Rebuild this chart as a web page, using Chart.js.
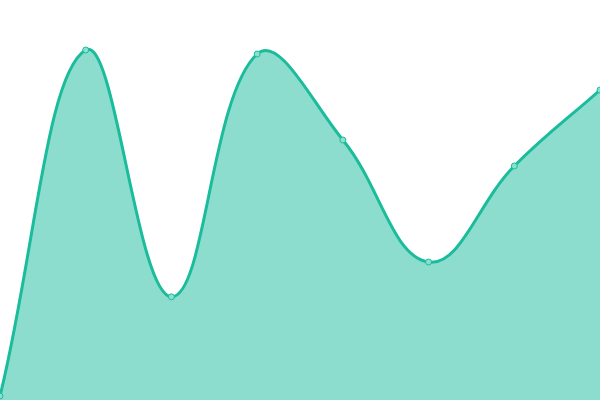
<!DOCTYPE html>
<html>
<head>
<meta charset="utf-8">
<script src="https://cdn.jsdelivr.net/npm/chart.js@4"></script>
<style>
  html, body { margin: 0; padding: 0; background: #fff; }
  #wrap { width: 600px; height: 400px; }
</style>
</head>
<body>
<div id="wrap"><canvas id="myChart"></canvas></div>
<script>
let labels = ['1', '2', '3', '4', '5', '6', '7', '8'];
let values = [1, 87.5, 25.8, 86.5, 65, 34.5, 58.5, 77.5];

var ctx = document.getElementById('myChart').getContext('2d');

var myChart = new Chart(ctx, {
  type: 'line',
  data: {
    labels: labels,
    datasets: [{
      data: values,
      fill: true,
      tension: 0.4,
      borderColor: '#1abc9c',
      backgroundColor: 'rgba(26, 188, 156, 0.5)',
      borderWidth: 3,
      pointRadius: 3,
      pointBorderWidth: 1,
      pointBackgroundColor: '#8ae0cf',
      pointBorderColor: '#1abc9c'
    }]
  },
  options: {
    responsive: true,
    maintainAspectRatio: false,
    animation: false,
    layout: { padding: 0, autoPadding: false },
    plugins: {
      legend: { display: false },
      tooltip: { enabled: false }
    },
    scales: {
      x: { display: false, offset: false },
      y: { display: false, min: 0, max: 100 }
    }
  }
});
</script>
</body>
</html>
